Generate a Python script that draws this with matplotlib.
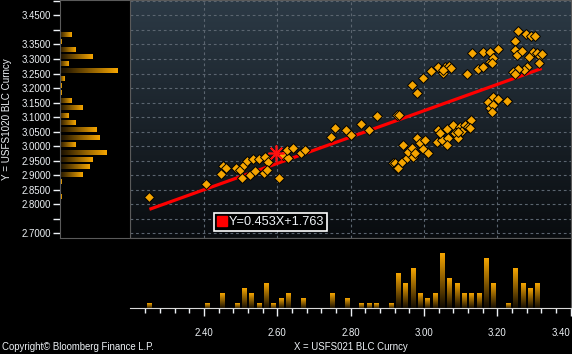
import numpy as np
import matplotlib.pyplot as plt
from matplotlib.colors import LinearSegmentedColormap
from matplotlib.lines import Line2D
from matplotlib.ticker import FixedLocator, FuncFormatter

plt.rcParams['font.family'] = ['Liberation Sans', 'DejaVu Sans']

# --- 1. DATA ---
# X = USFS021 BLC Curncy, Y = USFS1020 BLC Curncy
usfs021 = [2.251, 2.404, 2.446, 2.451, 2.460, 2.487, 2.498, 2.508, 2.518, 2.534,
           2.551, 2.567, 2.575, 2.503, 2.525, 2.539, 2.564, 2.571, 2.605, 2.616,
           2.630, 2.627, 2.642, 2.664, 2.675, 2.746, 2.757, 2.787, 2.801, 2.828,
           2.850, 2.872, 2.926, 2.933,
           2.916, 2.921, 2.927, 2.930, 2.939, 2.944, 2.953, 2.957, 2.966, 2.971,
           2.975, 2.980, 2.989, 2.996, 3.003, 3.012, 3.035, 3.039, 3.048, 3.044,
           3.062, 3.066, 3.063, 3.080, 3.084, 3.093, 3.098, 3.105, 3.112, 3.121,
           3.127, 3.125, 3.092,
           2.980, 3.175, 3.189, 3.203, 3.227, 3.180, 3.189, 3.185,
           2.968, 2.998, 3.019, 3.037, 3.053, 3.057, 3.069, 3.075, 3.051, 3.118,
           3.132, 3.148, 3.160, 3.160, 3.180, 3.180, 3.189, 3.203, 3.185,
           3.257, 3.278, 3.292, 3.303, 3.248, 3.248, 3.253, 3.268, 3.298, 3.307,
           3.316, 3.321, 3.287, 3.314, 3.280, 3.273, 3.257, 3.244, 3.248]
usfs1020 = [2.824, 2.869, 2.903, 2.933, 2.924, 2.924, 2.918, 2.935, 2.950, 2.956,
            2.955, 2.964, 2.946, 2.891, 2.901, 2.914, 2.906, 2.918, 2.889, 2.969,
            2.958, 2.987, 2.995, 2.977, 2.987, 3.030, 3.061, 3.055, 3.038, 3.078,
            3.055, 3.104, 3.107, 3.107,
            2.941, 2.941, 2.924, 2.924, 2.946, 3.004, 2.958, 2.981, 2.992, 2.964,
            2.975, 3.027, 3.010, 2.989, 3.021, 2.975, 3.015, 3.055, 3.021, 3.046,
            3.058, 3.027, 3.004, 3.073, 3.046, 3.027, 3.067, 3.053, 3.073, 3.065,
            3.090, 3.061, 3.050,
            3.182, 3.153, 3.168, 3.161, 3.156, 3.130, 3.141, 3.118,
            3.210, 3.233, 3.258, 3.273, 3.253, 3.273, 3.276, 3.268, 3.262, 3.248,
            3.319, 3.264, 3.325, 3.273, 3.323, 3.290, 3.302, 3.333, 3.285,
            3.396, 3.386, 3.379, 3.379, 3.363, 3.331, 3.313, 3.328, 3.325, 3.319,
            3.310, 3.317, 3.306, 3.285, 3.273, 3.262, 3.264, 3.256, 3.247]

ultimo_x = 2.596      # latest observation (red star)
ultimo_y = 2.977

pendente = 0.453      # Y = a*X + b
intercepto = 1.763

# histogram along X (bottom panel)
hist_x_centros = [2.25, 2.41, 2.45, 2.49, 2.51, 2.53, 2.55, 2.57, 2.59, 2.61,
                  2.63, 2.67, 2.75, 2.79, 2.83, 2.85, 2.87, 2.91, 2.93, 2.95,
                  2.97, 2.99, 3.01, 3.03, 3.05, 3.07, 3.09, 3.11, 3.13, 3.15,
                  3.17, 3.19, 3.23, 3.25, 3.27, 3.29, 3.31]
hist_x_conta = [1, 1, 3, 1, 4, 3, 1, 5, 1, 2,
                3, 2, 3, 2, 1, 1, 1, 1, 7, 5,
                8, 3, 2, 3, 11, 6, 5, 3, 3, 3,
                10, 5, 1, 8, 5, 4, 5]

# histogram along Y (left panel)
hist_y_centros = [3.385, 3.359, 3.334, 3.309, 3.285, 3.260, 3.233, 3.208, 3.183, 3.158,
                  3.132, 3.106, 3.082, 3.057, 3.031, 3.005, 2.979, 2.955, 2.929, 2.904,
                  2.878, 2.827]
hist_y_conta = [4, 1, 5, 10, 3, 17, 2, 1, 1, 4,
                7, 3, 5, 11, 12, 5, 14, 10, 9, 7,
                1, 1]

y_ticks = np.round(np.arange(2.70, 3.501, 0.05), 2)
y_sen_etiqueta = [2.75, 3.40, 3.50]
x_ticks = np.round(np.arange(2.40, 3.41, 0.2), 2)

# --- 2. STYLE ---
laranxa = '#f5a500'
texto = '#eef2f6'
cmap_barra = LinearSegmentedColormap.from_list('barra', ['#0c0700', laranxa])
cmap_fondo = LinearSegmentedColormap.from_list('fondo', ['#090c0f', '#2c3a46'])

W, H = 572, 354
fig = plt.figure(figsize=(W / 100, H / 100), dpi=100, facecolor='black')

def caixa(x0, y0, x1, y1):
    # pixel box (top-left origin) -> figure fraction
    return [x0 / W, 1 - y1 / H, (x1 - x0) / W, (y1 - y0) / H]

ax = fig.add_axes(caixa(130, 0, 571, 238))
ax_y = fig.add_axes(caixa(60, 0, 130, 238), sharey=ax)
ax_x = fig.add_axes(caixa(130, 238, 571, 307.5), sharex=ax)

def barra_gradiente(a, x0, x1, y0, y1, vertical=True):
    g = np.linspace(0, 1, 64)
    g = g.reshape(-1, 1) if vertical else g.reshape(1, -1)
    a.imshow(g, extent=[x0, x1, y0, y1], origin='lower', cmap=cmap_barra,
             aspect='auto', interpolation='bilinear', zorder=2)

# --- 3. MAIN SCATTER ---
ax.imshow(np.linspace(0, 1, 128).reshape(-1, 1), extent=[0, 1, 0, 1],
          transform=ax.transAxes, origin='lower', cmap=cmap_fondo,
          aspect='auto', zorder=0)
ax.grid(True, color='#5b6570', linestyle=(0, (2.5, 2.5)), linewidth=0.8, zorder=1)

xr = np.array([min(usfs021), max(usfs021)])
ax.plot(xr, pendente * xr + intercepto, color='#ff0000', lw=2.3, zorder=3,
        solid_capstyle='butt')
ax.plot(usfs021, usfs1020, 'D', color=laranxa, mec='black', mew=0.7, ms=5.2,
        ls='none', zorder=4)
ax.plot(ultimo_x, ultimo_y, marker=(8, 2, 0), color='#ff1010', ms=11.5, mew=1.2,
        ls='none', zorder=5)

lenda = Line2D([], [], marker='s', color='#ff0000', ls='none', ms=7.5)
leg = ax.legend([lenda], [f'Y={pendente:.3f}X+{intercepto:.3f}'],
                loc='lower left', bbox_to_anchor=(0.19, 0.03), borderaxespad=0,
                fancybox=False, framealpha=1, facecolor='black', edgecolor='white',
                fontsize=9.2, handlelength=0.8, handletextpad=0.15,
                borderpad=0.22, labelcolor=texto)
leg.get_frame().set_linewidth(1.2)

ax.set_xticks(x_ticks)
ax.set_yticks(y_ticks)
ax.tick_params(length=0, labelbottom=False, labelleft=False)
ax.set_xlim(2.198, 3.401)
ax.set_ylim(2.684, 3.503)
for s in ax.spines.values():
    s.set_color('#5a5a5a')

# --- 4. LEFT HISTOGRAM (Y) ---
ax_y.set_facecolor('black')
alto = 0.017
for c, n in zip(hist_y_centros, hist_y_conta):
    barra_gradiente(ax_y, 0, n, c - alto / 2, c + alto / 2, vertical=False)
ax_y.set_xlim(0.6, 20.6)
ax_y.set_ylim(2.684, 3.503)
ax_y.set_xticks([])
ax_y.yaxis.set_major_locator(FixedLocator(y_ticks))
ax_y.yaxis.set_major_formatter(FuncFormatter(
    lambda v, p: '' if any(abs(v - t) < 1e-6 for t in y_sen_etiqueta) else f'{v:.4f}'))
ax_y.tick_params(axis='y', colors=texto, labelsize=6.9, length=5, width=1, pad=1.5)
for s in ax_y.spines.values():
    s.set_color('#5a5a5a')
ax_y.set_ylabel('Y = USFS1020 BLC Curncy', color=texto, fontsize=7.1)
ax_y.yaxis.set_label_coords(-0.68, 0.5)

# --- 5. BOTTOM HISTOGRAM (X) ---
ax_x.set_facecolor('black')
ancho = 0.0135
for c, n in zip(hist_x_centros, hist_x_conta):
    barra_gradiente(ax_x, c - ancho / 2, c + ancho / 2, 0, n)
ax_x.set_xlim(2.198, 3.401)
ax_x.set_ylim(0.2, 14.0)
ax_x.set_yticks([])
ax_x.set_xticks(x_ticks)
ax_x.set_xticks(np.arange(2.24, 3.41, 0.04), minor=True)
ax_x.xaxis.set_major_formatter(FuncFormatter(lambda v, p: f'{v:.2f}'))
ax_x.tick_params(axis='x', which='major', colors=texto, labelsize=6.9, length=6,
                 width=1, pad=9)
ax_x.tick_params(axis='x', which='minor', colors=texto, length=3.5, width=1)
ax_x.get_xticklabels()[-1].set_horizontalalignment('right')
ax_x.spines['left'].set_visible(False)
ax_x.spines['top'].set_color('#5a5a5a')
ax_x.spines['right'].set_color('#5a5a5a')
ax_x.spines['bottom'].set_color('#d8d8d8')

fig.text(350.5 / W, 1 - 347 / H, 'X = USFS021 BLC Curncy', color=texto,
         fontsize=6.9, ha='center', va='center')
fig.text(2 / W, 1 - 347 / H, 'Copyright\u00a9 Bloomberg Finance L.P.', color=texto,
         fontsize=6.9, ha='left', va='center')

fig.savefig('out.png', dpi=100, facecolor='black')
